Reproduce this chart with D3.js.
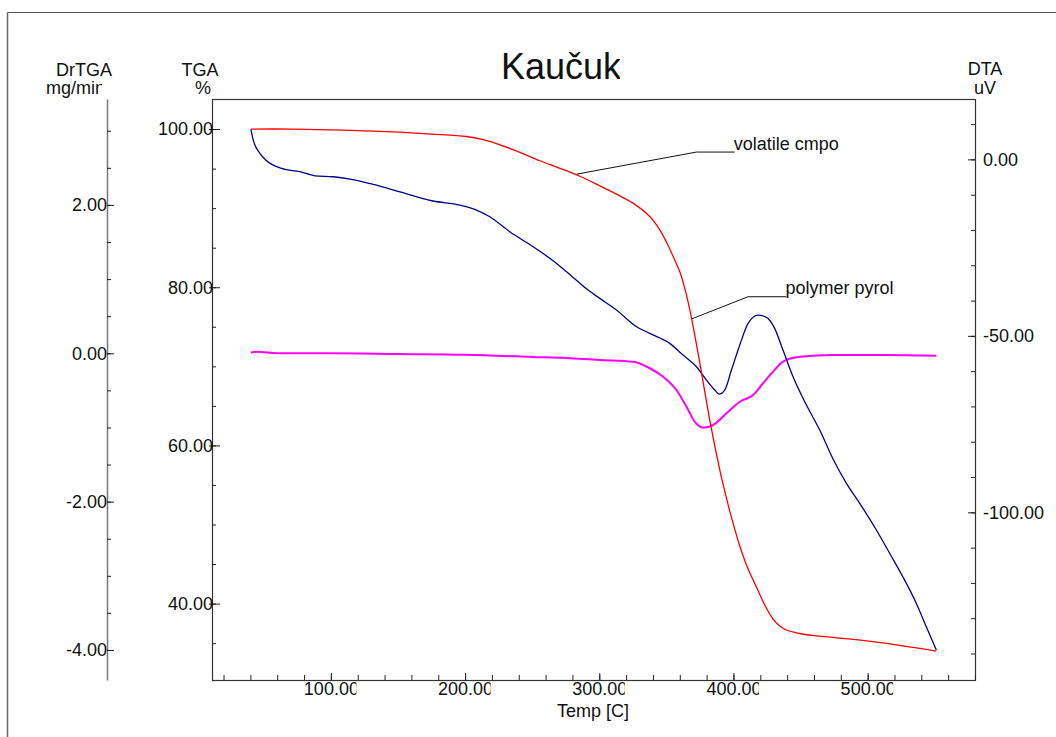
<!DOCTYPE html>
<html>
<head>
<meta charset="utf-8">
<style>
  body { margin: 0; background: #fff; }
  svg { font-family: "Liberation Sans", Arial, sans-serif; }
  .axis text { font-size: 18px; fill: #111; }
  .axis line { stroke: #222; }
  .lbl { font-size: 18px; fill: #111; }
</style>
<script src="https://d3js.org/d3.v7.min.js"></script>
</head>
<body>
<div id="chart"></div>
<script>
// temperature [C] / TGA [%] - red curve
var tgaTemp = [40.4, 70, 100, 125, 151, 175, 201, 213.4, 225.9, 240.8, 255.7, 270.6, 285.5, 300.4, 315.3, 326.5, 337.6, 345.1, 350.3, 355.5, 360.0, 364.4, 368.7, 374.9, 382.3, 389.0, 392.2, 398.0, 404.7, 410.6, 417.1, 423.3, 429.5, 434.5, 439.4, 449.4, 459.1, 504, 551.2];
var tgaVal  = [100, 100, 99.9, 99.78, 99.6, 99.37, 99.06, 98.65, 98.01, 97.06, 95.99, 95.04, 94.03, 92.82, 91.56, 90.48, 88.94, 87.26, 85.62, 83.72, 81.95, 79.42, 76.13, 70.44, 63.23, 57.54, 55.13, 51.21, 47.29, 44.5, 42.1, 39.82, 38.05, 37.17, 36.66, 36.22, 35.97, 35.2, 34.0];

// DTA [uV] - blue curve
var dtaTemp = [40.4, 42.1, 47.1, 52.1, 63.3, 76.9, 88.1, 101.7, 114.2, 131.5, 151.4, 176.2, 196.1, 208.5, 218.4, 233.3, 250.7, 265.6, 275.6, 291.7, 300.4, 312.8, 327.7, 337.6, 352.5, 362.4, 372.4, 379.9, 386.1, 389.3, 393.5, 398.5, 404.7, 410.9, 418.3, 424.6, 430.7, 436.9, 444.4, 454.4, 464.3, 474.2, 484.2, 494.1, 506.5, 516.4, 526.3, 536.3, 543.7, 551.2];
var dtaVal  = [8.5, 5.5, 1.7, -0.4, -2.55, -3.5, -4.65, -4.93, -5.58, -7.08, -9.18, -11.8, -12.95, -14.36, -16.26, -20.5, -24.76, -28.73, -31.84, -37.03, -39.38, -42.69, -47.42, -49.29, -52.13, -55.44, -58.76, -62.53, -65.36, -66.49, -65.36, -59.69, -52.61, -46.46, -44.11, -44.76, -47.88, -54.03, -61.59, -69.61, -76.69, -84.9, -91.79, -97.46, -105.0, -111.6, -118.3, -125.8, -132.4, -139.0];

// DrTGA [mg/min] - magenta curve
var drTemp = [40.4, 45, 60, 100, 150, 200, 250, 280, 300.4, 325.2, 337.6, 347.5, 357.5, 365.0, 371.1, 377.3, 384.8, 394.8, 404.7, 414.6, 422.0, 429.5, 436.9, 449.4, 474.2, 511.4, 551.2];
var drVal  = [0.01, 0.02, 0.0, 0.0, -0.01, -0.02, -0.05, -0.07, -0.09, -0.113, -0.202, -0.316, -0.495, -0.72, -0.922, -1.003, -0.967, -0.809, -0.653, -0.562, -0.404, -0.248, -0.113, -0.046, -0.023, -0.023, -0.032];

// ticks
var xMajor = [100, 200, 300, 400, 500];
var xMinor = d3.range(20, 581, 20);
var tgaMajor = [40, 60, 80, 100];
var tgaMinor = d3.range(35, 104, 5);
var drMajor = [-4, -2, 0, 2];
var drMinor = d3.range(-4, 3.01, 0.5);
var dtaMajor = [-100, -50, 0];
var dtaMinor = d3.range(-140, 11, 10);

// annotations: [temp, TGA%] anchor, elbow, end
var notes = [
  {text: "volatile cmpo", pts: [[283.2, 94.3], [372.4, 97.09], [400.9, 97.09]]},
  {text: "polymer pyrol", pts: [[368.9, 76.0], [410.9, 78.8], [439.5, 78.8]]}
];

var W = 1056, H = 737;
var L = 212, R = 975, T = 99, B = 680;
var fmt = function(d) { return d.toFixed(2); };

var svg = d3.select("#chart").append("svg")
  .attr("width", W).attr("height", H);

var defs = svg.append("defs");
defs.append("clipPath").attr("id", "clipX").append("rect")
  .attr("x", -30).attr("y", 0).attr("width", 55).attr("height", 30);
defs.append("clipPath").attr("id", "clipR").append("rect")
  .attr("x", 0).attr("y", -15).attr("width", 70).attr("height", 30);
defs.append("clipPath").attr("id", "clipTitle").append("rect")
  .attr("x", 400).attr("y", 30).attr("width", 220).attr("height", 70);
defs.append("clipPath").attr("id", "clipUnit").append("rect")
  .attr("x", 30).attr("y", 70).attr("width", 72).attr("height", 35);

var x = d3.scaleLinear().domain([11.4, 580]).range([L, R]);
var yTga = d3.scaleLinear().domain([30.34, 103.8]).range([B, T]);
var yDr = d3.scaleLinear().domain([-4.405, 3.428]).range([B, T]);
var yDta = d3.scaleLinear().domain([-147.5, 17.1]).range([B, T]);

// outer frame (top + left)
svg.append("line").attr("x1", 7.5).attr("x2", W).attr("y1", 12.5).attr("y2", 12.5)
  .attr("stroke", "#555").attr("stroke-width", 1.2);
svg.append("line").attr("x1", 7.5).attr("x2", 7.5).attr("y1", 12.5).attr("y2", H)
  .attr("stroke", "#666").attr("stroke-width", 1.5);

// title
svg.append("text").attr("x", 501).attr("y", 79)
  .attr("clip-path", "url(#clipTitle)")
  .style("font-size", "36px").attr("fill", "#111")
  .text("Kaučuk");

// axis titles
svg.append("text").attr("class", "lbl").attr("x", 84).attr("y", 76).attr("text-anchor", "middle").text("DrTGA");
svg.append("text").attr("class", "lbl").attr("x", 75.5).attr("y", 94).attr("text-anchor", "middle")
  .attr("clip-path", "url(#clipUnit)").text("mg/min");
svg.append("text").attr("class", "lbl").attr("x", 200).attr("y", 76).attr("text-anchor", "middle").text("TGA");
svg.append("text").attr("class", "lbl").attr("x", 203).attr("y", 94).attr("text-anchor", "middle").text("%");
svg.append("text").attr("class", "lbl").attr("x", 985).attr("y", 75).attr("text-anchor", "middle").text("DTA");
svg.append("text").attr("class", "lbl").attr("x", 985).attr("y", 94).attr("text-anchor", "middle").text("uV");
svg.append("text").attr("class", "lbl").attr("x", 593).attr("y", 717).attr("text-anchor", "middle").text("Temp [C]");

// plot frame
svg.append("rect").attr("x", L + 0.5).attr("y", T + 0.5)
  .attr("width", R - L).attr("height", B - T)
  .attr("fill", "none").attr("stroke", "#333").attr("stroke-width", 1.2);

// x axis
var gx = svg.append("g").attr("class", "axis").attr("transform", "translate(0," + B + ")");
gx.call(d3.axisBottom(x).tickValues(xMinor).tickSize(-5).tickFormat("").tickSizeOuter(0));
gx.append("g").call(d3.axisBottom(x).tickValues(xMajor).tickSize(-7).tickPadding(2)
  .tickFormat(fmt).tickSizeOuter(0));
gx.selectAll("text").attr("clip-path", "url(#clipX)");

// TGA axis
var gt = svg.append("g").attr("class", "axis").attr("transform", "translate(" + L + ",0)");
gt.call(d3.axisLeft(yTga).tickValues(tgaMinor).tickSize(-4).tickFormat("").tickSizeOuter(0));
var gtm = gt.append("g").call(d3.axisLeft(yTga).tickValues(tgaMajor).tickSize(-8).tickPadding(-1)
  .tickFormat(fmt).tickSizeOuter(0));
gtm.selectAll(".tick line").attr("x1", -3);

// DrTGA axis
var gd = svg.append("g").attr("class", "axis").attr("transform", "translate(107,0)");
gd.call(d3.axisLeft(yDr).tickValues(drMinor).tickSize(-4).tickFormat("").tickSizeOuter(0));
gd.append("g").call(d3.axisLeft(yDr).tickValues(drMajor).tickSize(-7).tickPadding(0)
  .tickFormat(fmt).tickSizeOuter(0));
gd.selectAll("path.domain").attr("stroke", "#777").attr("stroke-width", 1.5);
gd.selectAll(".tick line").attr("stroke", "#555");

// DTA axis
var gr = svg.append("g").attr("class", "axis").attr("transform", "translate(" + R + ",0)");
gr.call(d3.axisRight(yDta).tickValues(dtaMinor).tickSize(-4).tickFormat("").tickSizeOuter(0));
gr.append("g").call(d3.axisRight(yDta).tickValues(dtaMajor).tickSize(-7).tickPadding(8)
  .tickFormat(fmt).tickSizeOuter(0));
gr.selectAll("text").attr("clip-path", "url(#clipR)");

svg.selectAll(".axis path.domain").filter(function() { return this.parentNode !== gd.node(); }).remove();
gd.selectAll("g > g path.domain").remove();

// curves
function series(ts, vs) { return ts.map(function(t, i) { return [t, vs[i]]; }); }

svg.append("path").datum(series(drTemp, drVal))
  .attr("fill", "none").attr("stroke", "#ff00ff").attr("stroke-width", 2)
  .attr("d", d3.line().x(function(d) { return x(d[0]); }).y(function(d) { return yDr(d[1]); }).curve(d3.curveMonotoneX));

svg.append("path").datum(series(dtaTemp, dtaVal))
  .attr("fill", "none").attr("stroke", "#00008b").attr("stroke-width", 1.3)
  .attr("d", d3.line().x(function(d) { return x(d[0]); }).y(function(d) { return yDta(d[1]); }).curve(d3.curveMonotoneX));

svg.append("path").datum(series(tgaTemp, tgaVal))
  .attr("fill", "none").attr("stroke", "#ff0000").attr("stroke-width", 1.3)
  .attr("d", d3.line().x(function(d) { return x(d[0]); }).y(function(d) { return yTga(d[1]); }).curve(d3.curveCatmullRom.alpha(0.5)));

// annotations
notes.forEach(function(n) {
  svg.append("path").datum(n.pts)
    .attr("fill", "none").attr("stroke", "#111").attr("stroke-width", 1)
    .attr("d", d3.line().x(function(d) { return x(d[0]); }).y(function(d) { return yTga(d[1]); }));
  var end = n.pts[n.pts.length - 1];
  svg.append("text").attr("class", "lbl")
    .attr("x", x(end[0]) - 1).attr("y", yTga(end[1]) - 2.5)
    .text(n.text);
});
</script>
</body>
</html>
